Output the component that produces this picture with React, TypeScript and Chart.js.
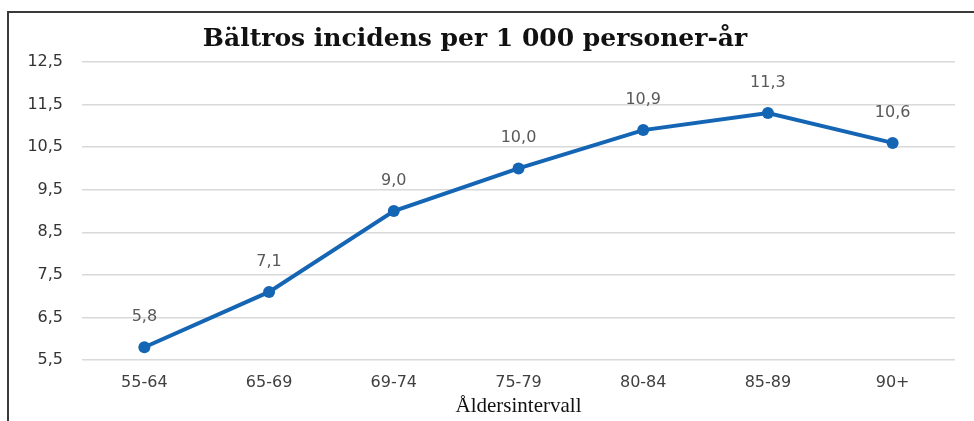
import React, { useEffect, useRef } from "react";
import { Chart, registerables } from "chart.js";

Chart.register(...registerables);

const TITLE = "Bältros incidens per 1 000 personer-år";
const X_TITLE = "Åldersintervall";
const CATEGORIES = ["55-64", "65-69", "69-74", "75-79", "80-84", "85-89", "90+"];
const VALUES = [5.8, 7.1, 9.0, 10.0, 10.9, 11.3, 10.6];
const Y_TICKS = [5.5, 6.5, 7.5, 8.5, 9.5, 10.5, 11.5, 12.5];

const fmt = (v: number) => v.toFixed(1).replace(".", ",");

const LINE_COLOR = "#1565B5";

export default function App() {
  const ref = useRef<HTMLCanvasElement | null>(null);

  useEffect(() => {
    if (!ref.current) return;
    const titlePlugin = {
      id: "customTitle",
      afterDraw(chart: any) {
        const ctx = chart.ctx;
        ctx.save();
        ctx.font = "bold 25px 'DejaVu Serif'";
        ctx.fillStyle = "#111";
        ctx.textAlign = "center";
        ctx.textBaseline = "alphabetic";
        ctx.fillText(TITLE, 475, 46);
        ctx.restore();
      },
    };
    const labelPlugin = {
      id: "dataLabels",
      afterDatasetsDraw(chart: any) {
        const ctx = chart.ctx;
        const meta = chart.getDatasetMeta(0);
        ctx.save();
        ctx.font = "16px 'DejaVu Sans'";
        ctx.fillStyle = "#595959";
        ctx.textAlign = "center";
        ctx.textBaseline = "middle";
        meta.data.forEach((pt: any, i: number) => {
          ctx.fillText(fmt(VALUES[i]), pt.x, pt.y - 30.5);
        });
        ctx.restore();
      },
    };
    const chart = new Chart(ref.current, {
      type: "line",
      data: {
        labels: CATEGORIES,
        datasets: [
          {
            data: VALUES,
            borderColor: LINE_COLOR,
            backgroundColor: LINE_COLOR,
            borderWidth: 4,
            pointRadius: 6,
            pointHoverRadius: 6,
            pointBackgroundColor: LINE_COLOR,
            pointBorderWidth: 0,
            tension: 0,
          },
        ],
      },
      options: {
        animation: false,
        responsive: false,
        maintainAspectRatio: false,
        layout: { padding: { top: 62, right: 19, left: 0, bottom: 0 } },
        plugins: {
          legend: { display: false },
          title: { display: false },
          tooltip: { enabled: false },
        },
        scales: {
          x: {
            offset: true,
            grid: { display: false, drawTicks: false },
            border: { display: false },
            ticks: {
              padding: 13,
              color: "#404040",
              font: { family: "'DejaVu Sans'", size: 16 },
              maxRotation: 0,
            },
            title: {
              display: true,
              text: X_TITLE,
              color: "#111",
              font: { family: "'Liberation Serif'", size: 21 },
              padding: { top: 0, bottom: 2 },
            },
            afterFit(scale: any) {
              scale.height = 61;
            },
          },
          y: {
            min: 5.5,
            max: 12.5,
            grid: { color: "#D9D9D9", lineWidth: 1.5, drawTicks: false },
            border: { display: false },
            ticks: {
              padding: 19,
              color: "#333",
              font: { family: "'DejaVu Sans'", size: 16 },
              callback: (v: any) => fmt(Number(v)),
            },
            afterBuildTicks(scale: any) {
              scale.ticks = Y_TICKS.map((v) => ({ value: v }));
            },
            afterFit(scale: any) {
              scale.width = 82;
            },
          },
        },
      },
      plugins: [titlePlugin, labelPlugin],
    });
    return () => chart.destroy();
  }, []);

  return (
    <div style={{ position: "fixed", left: 0, top: 0, width: 974, height: 421, background: "#fff" }}>
      <canvas ref={ref} width={974} height={421} style={{ position: "absolute", left: 0, top: 0 }} />
      <div
        style={{
          position: "absolute",
          left: 7,
          top: 11,
          width: 1000,
          height: 500,
          border: "2px solid #3a3a3a",
          pointerEvents: "none",
        }}
      />
    </div>
  );
}
